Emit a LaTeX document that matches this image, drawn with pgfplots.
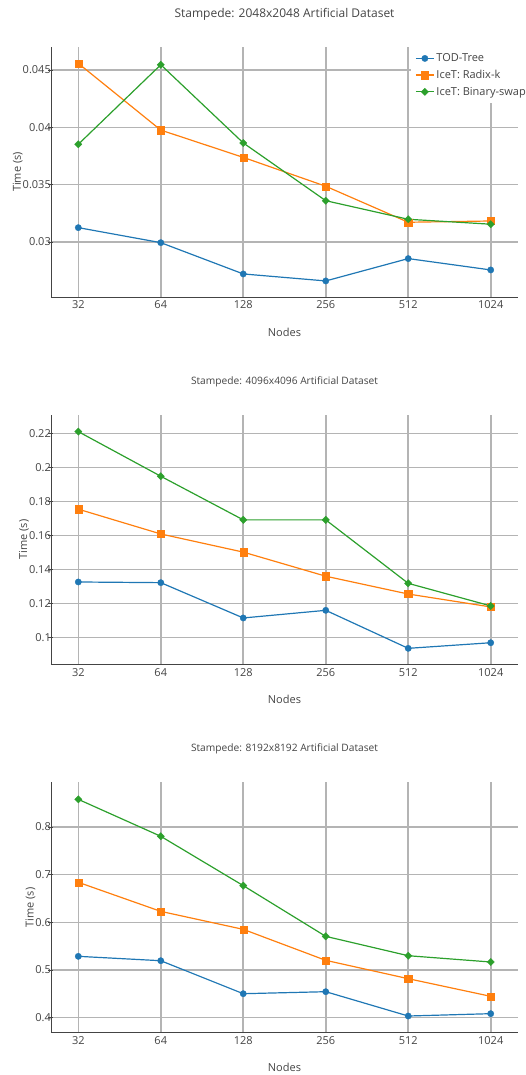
\documentclass[border=0pt]{standalone}
\usepackage{pgfplots}
\usepackage{pgfplotstable}
\pgfplotsset{compat=1.18}
\usepackage{fontspec}
\setmainfont{Open Sans}

\definecolor{todblue}{HTML}{1F77B4}
\definecolor{radixorange}{HTML}{FF7F0E}
\definecolor{bswapgreen}{HTML}{2CA02C}
\definecolor{gridgray}{HTML}{B4B4B4}
\definecolor{axisgray}{HTML}{444444}

% Compositing time (s) per node count, one table per image size
\pgfplotstableread{
idx nodes tod     radix   bswap
0   32    0.03125 0.04558 0.03852
1   64    0.02994 0.03976 0.04546
2   128   0.02721 0.03738 0.03864
3   256   0.02660 0.03486 0.03360
4   512   0.02855 0.03172 0.03198
5   1024  0.02756 0.03183 0.03155
}\dataA
\pgfplotstableread{
idx nodes tod    radix  bswap
0   32    0.1326 0.1755 0.2212
1   64    0.1322 0.1609 0.1949
2   128   0.1114 0.1502 0.1692
3   256   0.1159 0.1360 0.1692
4   512   0.0935 0.1255 0.1318
5   1024  0.0968 0.1179 0.1185
}\dataB
\pgfplotstableread{
idx nodes tod    radix  bswap
0   32    0.5287 0.6840 0.8580
1   64    0.5195 0.6230 0.7805
2   128   0.4503 0.5853 0.6770
3   256   0.4545 0.5203 0.5706
4   512   0.4035 0.4818 0.5300
5   1024  0.4084 0.4448 0.5168
}\dataC

\pgfplotsset{
  nodeplot/.style={
    scale only axis,
    width=467pt,
    xmin=-0.331, xmax=5.331,
    xtick={0,...,5},
    xticklabels={32,64,128,256,512,1024},
    axis x line*=bottom,
    axis y line*=left,
    axis line style={draw=axisgray, line width=0.9pt},
    grid=major,
    major grid style={draw=gridgray, line width=1.6pt},
    tick style={draw=axisgray, line width=0.9pt},
    xtick style={draw=none},
    major tick length=5pt,
    tick align=center,
    tick label style={font=\fontsize{11}{13}\selectfont, text=axisgray},
    yticklabel style={inner xsep=1pt, xshift=3.5pt},
    xticklabel style={yshift=2pt},
    scaled y ticks=false,
    xlabel={Nodes},
    ylabel={Time (s)},
    xlabel style={at={(axis description cs:0.5,0)}, anchor=center, yshift=-35pt,
                  font=\fontsize{11}{13}\selectfont, text=axisgray},
    ylabel style={font=\fontsize{11}{13}\selectfont, text=axisgray, yshift=-4.5pt},
    title style={at={(axis description cs:0.5,1)}, anchor=center, yshift=27pt, text=axisgray},
    /pgf/number format/assume math mode=true,
  },
  tod/.style={draw=todblue, line width=1.2pt, mark=*, mark size=3.2pt,
              mark options={solid, fill=todblue, draw=todblue, line width=0.3pt}},
  radix/.style={draw=radixorange, line width=1.2pt, mark=square*, mark size=3.6pt,
              mark options={solid, fill=radixorange, draw=radixorange, line width=0.3pt}},
  bswap/.style={draw=bswapgreen, line width=1.2pt, mark=square*, mark size=2.6pt,
              mark options={solid, rotate=45, fill=bswapgreen, draw=bswapgreen, line width=0.3pt}},
}

\begin{document}
\begin{tikzpicture}
\useasboundingbox (0,0) rectangle (526pt,1075pt);

% 2048x2048
\begin{axis}[nodeplot,
  at={(51pt,778pt)}, anchor=south west, height=250pt,
  ymin=0.0252, ymax=0.04701,
  ytick={0.03,0.035,0.04,0.045},
  yticklabels={0.03,0.035,0.04,0.045},
  title={Stampede: 2048x2048 Artificial Dataset},
  title style={font=\fontsize{12}{14}\selectfont},
  legend style={at={(0.771,1)}, anchor=north west, draw=none, fill=white,
    font=\fontsize{11}{13}\selectfont, text=axisgray,
    inner xsep=4pt, inner ysep=4.5pt, row sep=3pt},
  legend cell align=left,
  legend image code/.code={\draw[mark repeat=2,mark phase=2] plot coordinates {(0pt,0pt)(9pt,0pt)(18pt,0pt)};},
]
\addplot[tod]   table[x=idx, y=tod]   {\dataA};
\addplot[radix] table[x=idx, y=radix] {\dataA};
\addplot[bswap] table[x=idx, y=bswap] {\dataA};
\legend{TOD-Tree, IceT: Radix-k, IceT: Binary-swap}
\end{axis}

% 4096x4096
\begin{axis}[nodeplot,
  at={(51pt,410.7pt)}, anchor=south west, height=249.3pt,
  ymin=0.0841, ymax=0.2310,
  ytick={0.1,0.12,0.14,0.16,0.18,0.2,0.22},
  yticklabels={0.1,0.12,0.14,0.16,0.18,0.2,0.22},
  title={Stampede: 4096x4096 Artificial Dataset},
  title style={font=\fontsize{10.2}{12}\selectfont},
]
\addplot[tod]   table[x=idx, y=tod]   {\dataB};
\addplot[radix] table[x=idx, y=radix] {\dataB};
\addplot[bswap] table[x=idx, y=bswap] {\dataB};
\end{axis}

% 8192x8192
\begin{axis}[nodeplot,
  at={(51pt,42.3pt)}, anchor=south west, height=250.4pt,
  ymin=0.3685, ymax=0.8938,
  ytick={0.4,0.5,0.6,0.7,0.8},
  yticklabels={0.4,0.5,0.6,0.7,0.8},
  title={Stampede: 8192x8192 Artificial Dataset},
  title style={font=\fontsize{10.2}{12}\selectfont},
]
\addplot[tod]   table[x=idx, y=tod]   {\dataC};
\addplot[radix] table[x=idx, y=radix] {\dataC};
\addplot[bswap] table[x=idx, y=bswap] {\dataC};
\end{axis}
\end{tikzpicture}
\end{document}
